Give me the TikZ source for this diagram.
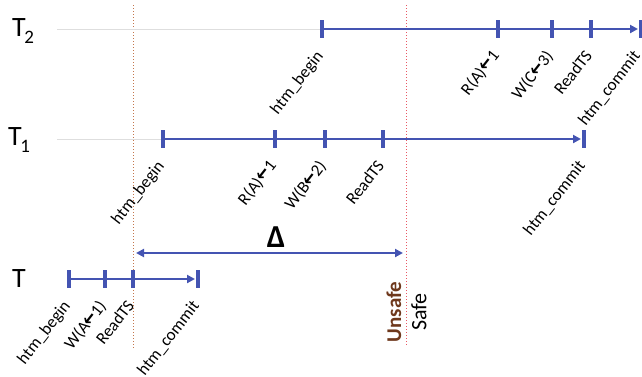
\documentclass[tikz,border=0pt]{standalone}
\usepackage{fontspec}
\setmainfont{Carlito}
\newfontfamily\arrfont{DejaVu Sans}
\usetikzlibrary{arrows.meta}
\definecolor{tlblue}{RGB}{68,84,178}
\definecolor{gridgray}{RGB}{222,222,222}
\definecolor{oldline}{RGB}{196,118,76}
\definecolor{newline}{RGB}{232,88,100}
\definecolor{unsafebrown}{RGB}{110,56,28}
\newcommand\larr{\scalebox{0.8}[1]{\arrfont\bfseries\fontsize{19}{19}\selectfont ←}}
\newcommand\txname[1]{\fontsize{28}{30}\selectfont T\kern-1.5pt\raisebox{-7pt}{\fontsize{19}{20}\selectfont #1}}
\tikzset{
  tline/.style={line width=2.4pt, draw=tlblue},
  tarrow/.style={tline, -{Triangle[length=8pt,width=8pt]}},
  tickbar/.style={line width=4.2pt, draw=tlblue},
  guide/.style={line width=0.6pt, draw=gridgray},
  epoch/.style={line width=1pt, dotted},
  lbl/.style={font=\fontsize{17}{18}\selectfont, rotate=52, anchor=base east, inner sep=0pt},
  rowname/.style={anchor=west, inner sep=0pt},
}
\begin{document}
\begin{tikzpicture}[x=1pt, y=-1pt]
  \useasboundingbox (0,0) rectangle (642,376);

  % epoch boundaries
  \coordinate (oldtop) at (133,5);
  \coordinate (oldbot) at (133,348);
  \coordinate (newtop) at (406,5);
  \coordinate (newbot) at (406,346);
  \draw[epoch, draw=oldline] (oldtop) -- (oldbot);
  \draw[epoch, draw=newline] (newtop) -- (newbot);

  % row names
  \node[rowname] (nT2) at (12,31) {\txname{2}};
  \node[rowname] (nT1) at (8,140) {\txname{1}};
  \node[rowname] (nT) at (12,279) {\fontsize{28}{30}\selectfont T};

  % ---- T2 ----
  \coordinate (g2) at (57,29);
  \coordinate (b2) at (322,29);
  \coordinate (r2) at (498,29);
  \coordinate (w2) at (552,29);
  \coordinate (s2) at (591,29);
  \coordinate (e2) at (638,29);
  \coordinate (c2) at (641,29);
  \draw[guide] (g2) -- (b2);
  \draw[tarrow] (b2) -- (e2);
  \foreach \p in {b2,r2,w2,s2,c2}
    \draw[tickbar] ([yshift=9pt]\p) -- ([yshift=-9pt]\p);
  \node[lbl] (lb2) at ([shift={(2,27)}]b2) {htm\_begin};
  \node[lbl] (lr2) at ([shift={(2,27)}]r2) {R(A)\larr1};
  \node[lbl] (lw2) at ([shift={(2,27)}]w2) {W(C\larr3)};
  \node[lbl] (ls2) at ([shift={(2,27)}]s2) {ReadTS};
  \node[lbl] (lc2) at ([shift={(0,27)}]c2) {htm\_commit};

  % ---- T1 ----
  \coordinate (g1) at (57,139);
  \coordinate (b1) at (163,139);
  \coordinate (r1) at (275,139);
  \coordinate (w1) at (325,139);
  \coordinate (s1) at (383,139);
  \coordinate (e1) at (581,139);
  \coordinate (c1) at (584,139);
  \draw[guide] (g1) -- (b1);
  \draw[tarrow] (b1) -- (e1);
  \foreach \p in {b1,r1,w1,s1,c1}
    \draw[tickbar] ([yshift=9pt]\p) -- ([yshift=-9pt]\p);
  \node[lbl] (lb1) at ([shift={(2,27)}]b1) {htm\_begin};
  \node[lbl] (lr1) at ([shift={(2,27)}]r1) {R(A)\larr1};
  \node[lbl] (lw1) at ([shift={(2,27)}]w1) {W(B\larr2)};
  \node[lbl] (ls1) at ([shift={(2,27)}]s1) {ReadTS};
  \node[lbl] (lc1) at ([shift={(2,27)}]c1) {htm\_commit};

  % ---- T ----
  \coordinate (b0) at (69,279);
  \coordinate (w0) at (105,279);
  \coordinate (s0) at (133,279);
  \coordinate (e0) at (195,279);
  \coordinate (c0) at (198,279);
  \draw[tarrow] (b0) -- (e0);
  \foreach \p in {b0,w0,s0,c0}
    \draw[tickbar] ([yshift=9pt]\p) -- ([yshift=-9pt]\p);
  \node[lbl] (lb0) at ([shift={(2,27)}]b0) {htm\_begin};
  \node[lbl] (lw0) at ([shift={(2,27)}]w0) {W(A\larr1)};
  \node[lbl] (ls0) at ([shift={(2,27)}]s0) {ReadTS};
  \node[lbl] (lc0) at ([shift={(2,27)}]c0) {htm\_commit};

  % ---- window between the two boundaries ----
  \coordinate (dl) at (136,253);
  \coordinate (dr) at (403,253);
  \draw[tline, {Triangle[length=8pt,width=8pt]}-{Triangle[length=8pt,width=8pt]}] (dl) -- (dr);
  \node[font=\fontsize{32}{34}\selectfont\bfseries, inner sep=0pt] (delta) at (276,237) {Δ};

  % ---- region names ----
  \node[rotate=90, font=\fontsize{21}{22}\selectfont\bfseries, text=unsafebrown, inner sep=0pt] (unsafe) at (394,312) {Unsafe};
  \node[rotate=90, font=\fontsize{22}{23}\selectfont, inner sep=0pt] (safe) at (419,312) {Safe};
\end{tikzpicture}
\end{document}
